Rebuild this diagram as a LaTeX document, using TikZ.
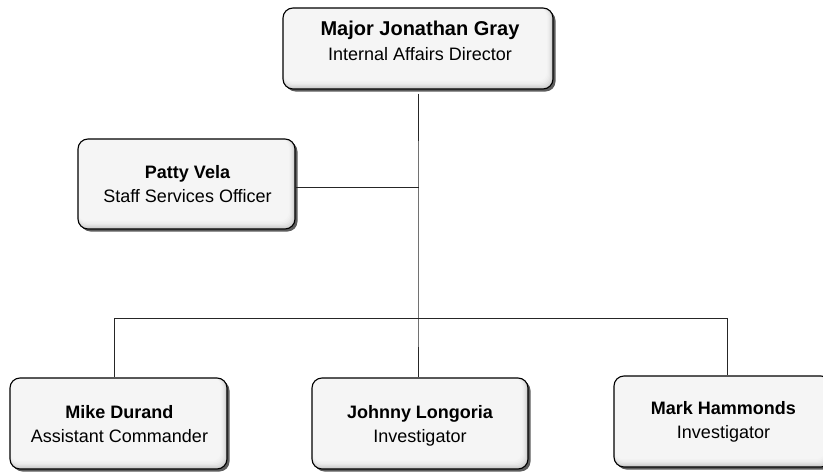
\documentclass[tikz,border=0pt]{standalone}
\usepackage{fontspec}
\setmainfont{Liberation Sans}
\usetikzlibrary{shadows}
\begin{document}
\begin{tikzpicture}[x=1pt,y=-1pt,
  box/.style={draw=black, line width=1.1pt, rounded corners=10pt, inner sep=0pt,
    fill=gray!45,
    drop shadow={shadow xshift=2.5pt, shadow yshift=-2.5pt, fill=black!75, opacity=0.85},
    path picture={
      \foreach \i/\c in {0/42,1/32,2/24,3/18,4/13,5/10,6/8}{
        \fill[gray!\c, rounded corners=9pt] (path picture bounding box.north west)
          rectangle ([xshift=-\i pt, yshift=1.3*\i pt]path picture bounding box.south east);
      }}},
  pname/.style={font=\fontsize{18}{22}\bfseries\selectfont, inner sep=0pt, anchor=base},
  bigname/.style={font=\fontsize{20}{24}\bfseries\selectfont, inner sep=0pt, anchor=base},
  prole/.style={font=\fontsize{18}{22}\selectfont, inner sep=0pt, anchor=base},
  link/.style={draw=black!85, line width=1pt}
]
\useasboundingbox (0,0) rectangle (823,474);
\begin{scope}
\clip (0,0) rectangle (823,474);
% boxes
\node[box, minimum width=270pt, minimum height=81pt] (top) at (418,48.5) {};
\node[box, minimum width=217pt, minimum height=90pt] (patty) at (186.5,184) {};
\node[box, minimum width=217pt, minimum height=91pt] (mike) at (118.5,423.5) {};
\node[box, minimum width=216pt, minimum height=91pt] (johnny) at (420,423.5) {};
\node[box, minimum width=217pt, minimum height=91pt] (mark) at (722.5,421.5) {};
\end{scope}
% texts
\node[bigname] (topn) at (420,35) {Major Jonathan Gray};
\node[prole] (topr) at (420,60) {Internal Affairs Director};
\node[pname] (pattyn) at (187.5,178) {Patty Vela};
\node[prole] (pattyr) at (187.5,202) {Staff Services Officer};
\node[pname] (miken) at (119.5,418) {Mike Durand};
\node[prole] (miker) at (119.5,442) {Assistant Commander};
\node[pname] (johnnyn) at (420,418) {Johnny Longoria};
\node[prole] (johnnyr) at (420,442) {Investigator};
\node[pname] (markn) at (723.5,414) {Mark Hammonds};
\node[prole] (markr) at (723.5,438) {Investigator};
% connectors
\coordinate (bus) at (418,318);
\coordinate (tap) at (418,187);
\coordinate (busl) at (114,318);
\coordinate (busr) at (727,318);
\draw[link] ([yshift=-4pt]top.south) -- (tap) -- (bus) -- (bus |- johnny.north);
\draw[link] (patty.east |- tap) -- ([xshift=1pt]tap);
\draw[link] (busl) -- (busr);
\draw[link] (busl) -- (busl |- mike.north);
\draw[link] (busr) -- (busr |- mark.north);
\end{tikzpicture}
\end{document}
